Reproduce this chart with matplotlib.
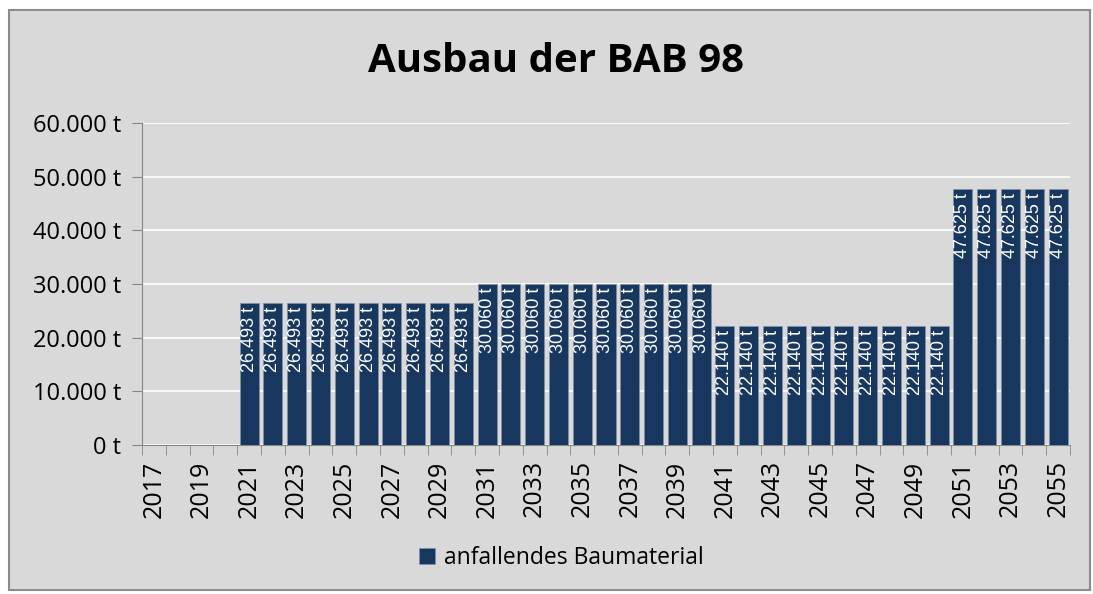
import matplotlib.pyplot as plt
from matplotlib.patches import Rectangle
from matplotlib.ticker import FuncFormatter

# Daten
jahre = list(range(2017, 2056))
werte = [0, 0, 0, 0] + [26493] * 10 + [30060] * 10 + [22140] * 10 + [47625] * 5
titel = "Ausbau der BAB 98"
serie = "anfallendes Baumaterial"

bg = "#d9d9d9"
balken = "#17375e"
achse = "#868686"


def fmt_t(v, pos=None):
    return f"{int(v):,} t".replace(",", ".")


plt.rcParams['font.family'] = ['Open Sans', 'DejaVu Sans']

fig = plt.figure(figsize=(10.93, 5.94), dpi=100)
fig.patch.set_facecolor("white")
# Rahmen des Diagrammbereichs
fig.patches.append(Rectangle((9 / 1093, 4 / 594), 1081 / 1093, 580 / 594,
                             transform=fig.transFigure, facecolor=bg,
                             edgecolor="#8c8c8c", linewidth=1.5, zorder=-10))

ax = fig.add_axes([142 / 1093, 1 - 445 / 594, 928 / 1093, 322 / 594])
ax.set_facecolor(bg)
x = list(range(len(jahre)))
bars = ax.bar(x, werte, width=0.8, color=balken, edgecolor="#7f8fa6",
              linewidth=0.6, zorder=3, label=serie)

for xi, v in zip(x, werte):
    if v > 0:
        ax.annotate(fmt_t(v), (xi, v), xytext=(0, -3), textcoords="offset points",
                    rotation=90, ha="center", va="top", color="white",
                    fontsize=13, family=['Liberation Sans', 'DejaVu Sans'],
                    zorder=4)

ax.set_xlim(-0.5, len(jahre) - 0.5)
ax.set_ylim(0, 60000)
ax.set_yticks(range(0, 60001, 10000))
ax.yaxis.set_major_formatter(FuncFormatter(fmt_t))
ax.grid(axis="y", color="white", linewidth=1.2, zorder=0)

ax.set_xticks(x[::2])
ax.set_xticklabels([str(j) for j in jahre[::2]], rotation=90)
ax.set_xticks([i - 0.5 for i in range(len(jahre) + 1)], minor=True)
ax.tick_params(axis="x", which="major", length=0, pad=11, labelsize=18)
ax.tick_params(axis="x", which="minor", length=7, color=achse)
ax.tick_params(axis="y", length=7, color=achse, labelsize=17, pad=8)

for s in ["top", "right"]:
    ax.spines[s].set_visible(False)
for s in ["left", "bottom"]:
    ax.spines[s].set_color(achse)

fig.text(556 / 1093, 1 - 62 / 594, titel, ha="center", va="center",
         fontsize=29, fontweight="bold")

fig.legend(handles=[bars], labels=[serie], loc="center",
           bbox_to_anchor=(561 / 1093, 1 - 558 / 594), frameon=False,
           fontsize=16.5, handlelength=0.7, handleheight=0.7, handletextpad=0.4)

fig.savefig("out.png", dpi=100, facecolor=fig.get_facecolor())
